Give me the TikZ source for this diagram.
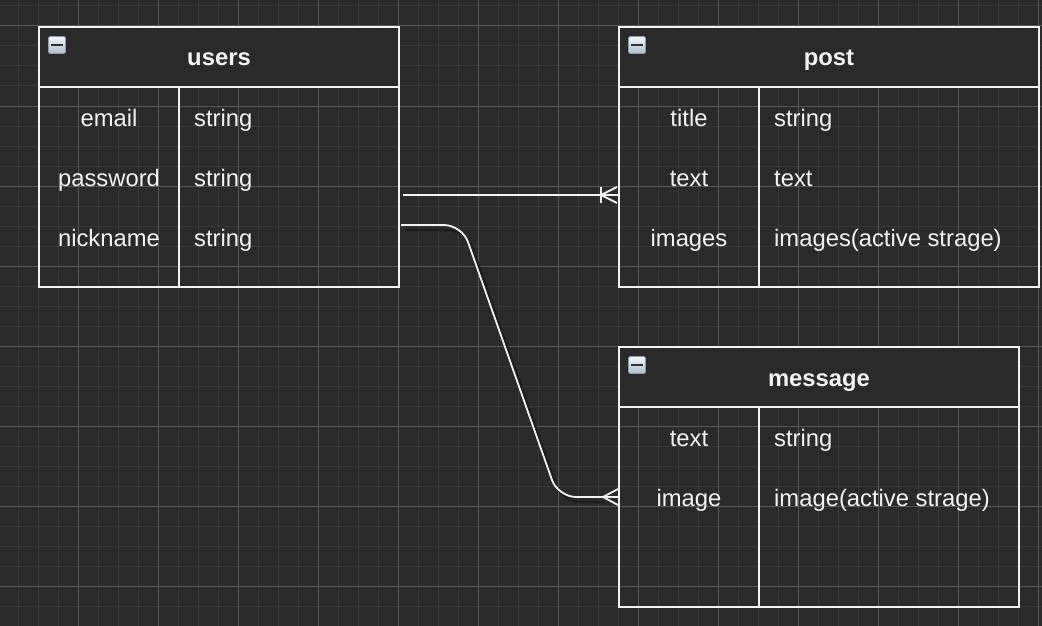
\documentclass[tikz,border=0pt]{standalone}
\usepackage{fontspec}
\setmainfont{Liberation Sans}
\usetikzlibrary{calc}
\definecolor{bg}{HTML}{2A2A2A}
\definecolor{gridminor}{HTML}{373737}
\definecolor{gridmajor}{HTML}{575757}
\definecolor{ink}{HTML}{F2F2F2}
\definecolor{shadowc}{HTML}{1C1C1C}
\definecolor{icontop}{HTML}{F4F7FA}
\definecolor{iconbot}{HTML}{AEBCCB}
\definecolor{iconedge}{HTML}{8A9DB5}
\definecolor{iconbar}{HTML}{333333}
\begin{document}
\begin{tikzpicture}[x=1pt,y=-1pt,
  tablebox/.style={draw=ink, line width=2pt, anchor=north west, inner sep=0pt, outer sep=0pt},
  headbox/.style={tablebox, fill=bg},
  tableline/.style={draw=ink, line width=2pt},
  fieldtxt/.style={text=ink, font=\fontsize{23.8}{28}\selectfont, anchor=base, inner sep=0pt},
  typetxt/.style={fieldtxt, anchor=base west},
  titletxt/.style={fieldtxt, font=\fontsize{23.8}{28}\selectfont\bfseries},
  conn/.style={draw=ink, line width=1.8pt},
  connshadow/.style={draw=shadowc, line width=2.5pt, opacity=0.8},
  iconbox/.style={minimum size=17pt, inner sep=0pt, rounded corners=1.5pt, top color=icontop, bottom color=iconbot, draw=iconedge, line width=0.8pt},
  iconminus/.style={draw=iconbar, line width=2.6pt}
]
% background and grid
\fill[bg] (0,0) rectangle (1042,626);
\useasboundingbox (0,0) rectangle (1042,626);
\foreach \k in {0,...,51} \draw[gridminor, line width=1pt] ({18+20*\k},0) -- ({18+20*\k},626);
\foreach \k in {0,...,31} \draw[gridminor, line width=1pt] (0,{6+20*\k}) -- (1042,{6+20*\k});
\foreach \k in {0,...,12} \draw[gridmajor, line width=1pt] ({78+80*\k},0) -- ({78+80*\k},626);
\foreach \k in {0,...,7} \draw[gridmajor, line width=1pt] (0,{26+80*\k}) -- (1042,{26+80*\k});

% ---------- users ----------
\node[tablebox, minimum width=360pt, minimum height=260pt] (users) at (39,27) {};
\node[headbox, minimum width=360pt, minimum height=60pt] (usersH) at (39,27) {};
\draw[tableline] (179,87) -- (179,287);
\node[iconbox] (usersI) at (57,45) {};
\draw[iconminus] ($(usersI.center)+(-6,0)$) -- ($(usersI.center)+(6,0)$);
\node[titletxt] (usersT) at (219,66) {users};
\node[fieldtxt] (u1) at (109,126) {email};
\node[fieldtxt] (u2) at (109,186) {password};
\node[fieldtxt] (u3) at (109,246) {nickname};
\node[typetxt] (u1t) at (194,126) {string};
\node[typetxt] (u2t) at (194,186) {string};
\node[typetxt] (u3t) at (194,246) {string};

% ---------- post ----------
\node[tablebox, minimum width=420pt, minimum height=260pt] (post) at (619,27) {};
\node[headbox, minimum width=420pt, minimum height=60pt] (postH) at (619,27) {};
\draw[tableline] (759,87) -- (759,287);
\node[iconbox] (postI) at (637,45) {};
\draw[iconminus] ($(postI.center)+(-6,0)$) -- ($(postI.center)+(6,0)$);
\node[titletxt] (postT) at (829,66) {post};
\node[fieldtxt] (p1) at (689,126) {title};
\node[fieldtxt] (p2) at (689,186) {text};
\node[fieldtxt] (p3) at (689,246) {images};
\node[typetxt] (p1t) at (774,126) {string};
\node[typetxt] (p2t) at (774,186) {text};
\node[typetxt] (p3t) at (774,246) {images(active strage)};

% ---------- message ----------
\node[tablebox, minimum width=400pt, minimum height=260pt] (message) at (619,347) {};
\node[headbox, minimum width=400pt, minimum height=60pt] (messageH) at (619,347) {};
\draw[tableline] (759,407) -- (759,607);
\node[iconbox] (messageI) at (637,365) {};
\draw[iconminus] ($(messageI.center)+(-6,0)$) -- ($(messageI.center)+(6,0)$);
\node[titletxt] (messageT) at (819,386) {message};
\node[fieldtxt] (m1) at (689,446) {text};
\node[fieldtxt] (m2) at (689,506) {image};
\node[typetxt] (m1t) at (774,446) {string};
\node[typetxt] (m2t) at (774,506) {image(active strage)};

% ---------- connectors ----------
\coordinate (uOutA) at ($(users.north east)+(4,168)$);
\coordinate (pIn) at ($(post.north west)+(0,168)$);
\coordinate (uOutB) at ($(users.north east)+(2,198)$);
\coordinate (mIn) at ($(message.north west)+(0,150)$);

% users -> post (one or many)
\draw[conn] (uOutA) -- (pIn);
\draw[conn] ($(pIn)+(-18,-8)$) -- ($(pIn)+(-18,8)$);
\draw[conn] ($(pIn)+(-2,-8)$) -- ($(pIn)+(-18,0)$) -- ($(pIn)+(-2,8)$);

% users -> message (many)
\draw[connshadow, rounded corners=18pt] ($(uOutB)+(4,5)$) -- (466,230) -- (562,502) -- ($(mIn)+(-14,5)$);
\draw[conn, rounded corners=18pt] (uOutB) -- (462,225) -- (558,497) -- (mIn);
\draw[conn] ($(mIn)+(-1,-8)$) -- ($(mIn)+(-16,0)$) -- ($(mIn)+(-1,8)$);
\end{tikzpicture}
\end{document}
